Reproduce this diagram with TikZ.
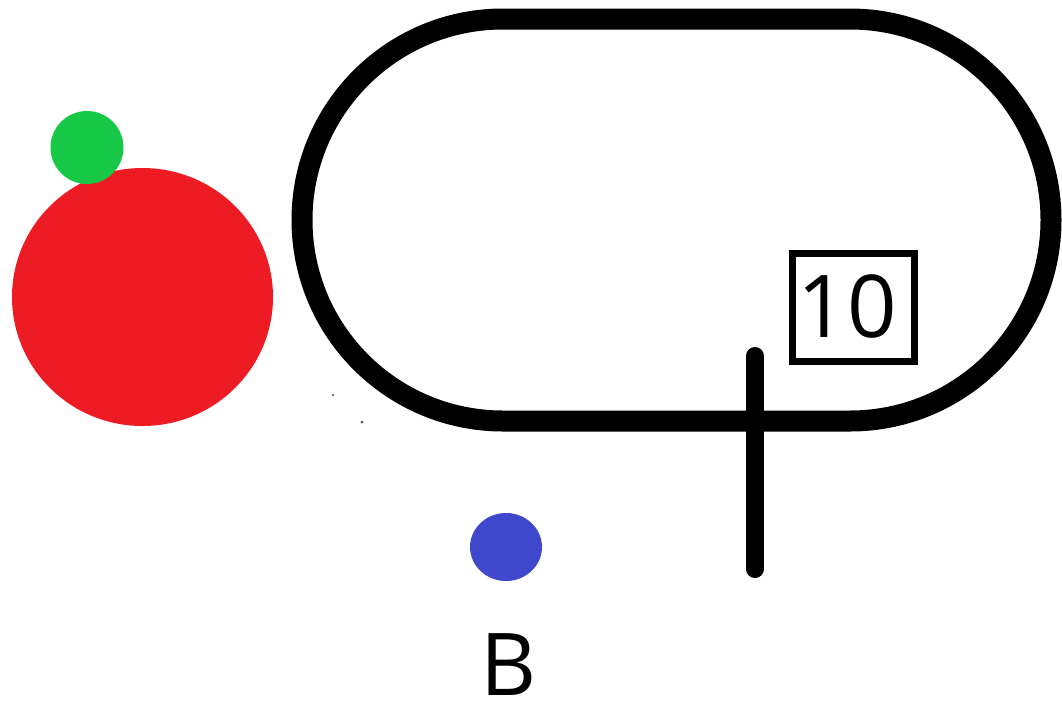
\documentclass[tikz,border=0pt]{standalone}
\usepackage{fontspec}
\usetikzlibrary{shapes.geometric}
\setmainfont{Open Sans}
\definecolor{myred}{RGB}{237,28,36}
\definecolor{mygreen}{RGB}{22,200,70}
\definecolor{myblue}{RGB}{63,72,204}
\tikzset{
  track/.style={draw=black,line width=15.75pt,rounded corners=150.75pt},
  tick/.style={draw=black,line width=13.5pt,line cap=round},
  labelbox/.style={draw=black,line width=5.25pt,minimum width=91.5pt,minimum height=81pt,inner sep=0pt},
  bigtext/.style={font=\fontsize{65pt}{70pt}\selectfont,inner sep=0pt,text depth=0pt},
  speck/.style={fill=black!70}
}
\begin{document}
\begin{tikzpicture}[x=0.75pt,y=-0.75pt]
\useasboundingbox (0,0) rectangle (1062,701);
% track
\draw[track] (302,19) rectangle (1051,421);
% red and green circles
\fill[myred] (142.5,297) ellipse [x radius=130.5, y radius=129];
\fill[mygreen] (87,147.5) circle [radius=36.5];
% blue dot
\node[fill=myblue,ellipse,minimum width=54pt,minimum height=51pt,inner sep=0pt] (blue) at (506,547) {};
% label box
\node[labelbox] (box) at (853.5,307.5) {};
\node[bigtext] (ten) at (847.5,306) {10};
% vertical tick
\coordinate (t1) at (755,356);
\coordinate (t2) at (755,569);
\draw[tick] (t1) -- (t2);
% B
\node[bigtext] (B) at (509,665) {B};
% specks
\fill[speck] (333,395) circle [radius=1.2];
\fill[speck] (362,422) circle [radius=1.5];
\end{tikzpicture}
\end{document}
